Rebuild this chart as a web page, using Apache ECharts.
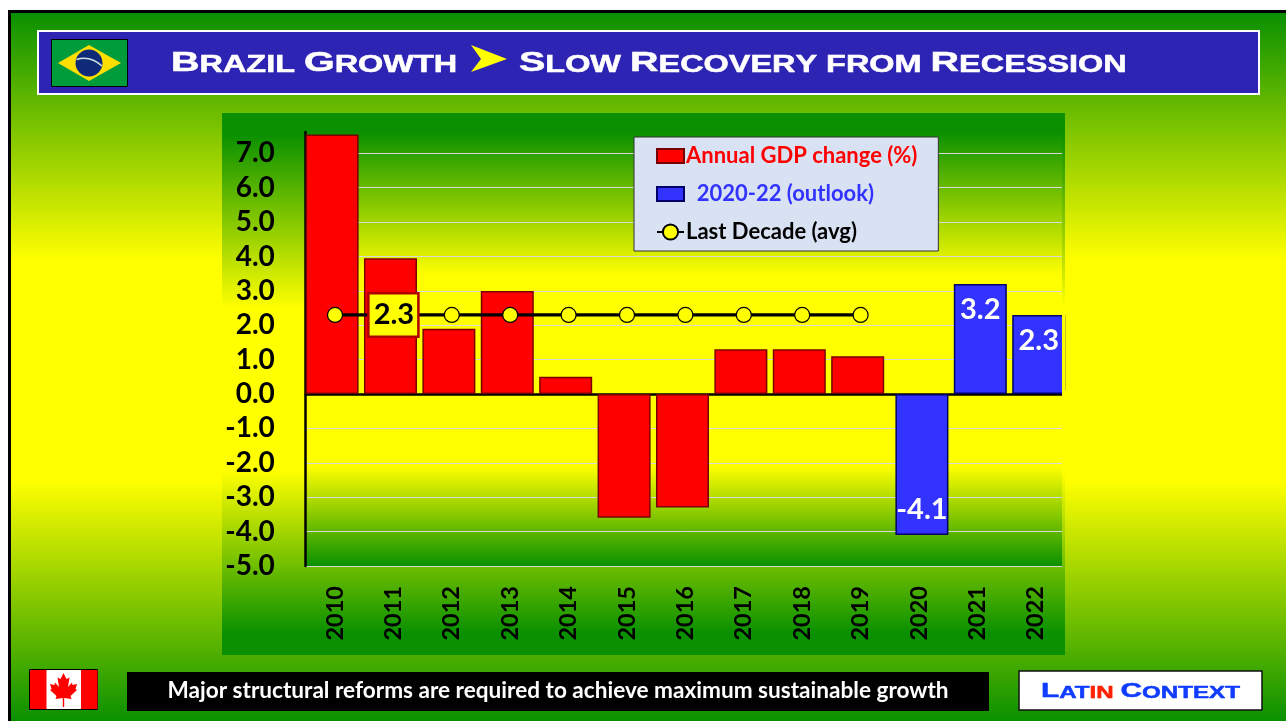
<!DOCTYPE html>
<html>
<head>
<meta charset="utf-8">
<title>Brazil Growth</title>
<script src="https://cdn.jsdelivr.net/npm/echarts@6/dist/echarts.min.js"></script>
<style>
html, body { margin: 0; padding: 0; background: #fff; }
#main { width: 1286px; height: 721px; }
</style>
</head>
<body>
<div id="main"></div>
<script>
var years = ['2010', '2011', '2012', '2013', '2014', '2015', '2016', '2017', '2018', '2019', '2020', '2021', '2022'];
var gdpChange = [7.55, 3.95, 1.9, 3.0, 0.5, -3.6, -3.3, 1.3, 1.3, 1.1, null, null, null];
var outlook = [null, null, null, null, null, null, null, null, null, null, -4.1, 3.2, 2.3];
var decadeAvg = [2.3, 2.3, 2.3, 2.3, 2.3, 2.3, 2.3, 2.3, 2.3, 2.3, null, null, null];
var seriesNames = ['Annual GDP change (%)', '2020-22 (outlook)', 'Last Decade (avg)'];
var titleLeft = 'Brazil Growth';
var titleRight = 'Slow Recovery from Recession';
var footerNote = 'Major structural reforms are required to achieve maximum sustainable growth';

var GREEN = '#0a9000';
var FONT = 'Lato';
var CAPS_FONT = 'Liberation Sans';

function vgrad(y0, y1, stops) {
    return new echarts.graphic.LinearGradient(0, y0, 0, y1, stops, true);
}
var panelGrad = vgrad(113, 655, [
    { offset: 0, color: GREEN }, { offset: 0.04, color: GREEN },
    { offset: 0.36, color: '#ffff00' }, { offset: 0.66, color: '#ffff00' },
    { offset: 0.96, color: GREEN }, { offset: 1, color: GREEN }
]);
var pageGrad = vgrad(13, 721, [
    { offset: 0, color: GREEN }, { offset: 0.35, color: '#ffff00' },
    { offset: 0.66, color: '#ffff00' }, { offset: 1, color: GREEN }
]);

function capsStyle(size, color) {
    return { fontFamily: CAPS_FONT, fontWeight: 'bold', fontSize: size, fill: color, stroke: color, lineWidth: 0.5, verticalAlign: 'bottom' };
}
// small caps look: capitals large, the rest upper-cased in a smaller size
function smallCaps(s) {
    return s.split('').map(function (c) {
        if (c === ' ') return '{b| }';
        if (c === c.toUpperCase()) return '{a|' + c + '}';
        return '{b|' + c.toUpperCase() + '}';
    }).join('');
}
function capsText(str, x, y, sx, big, small, color) {
    return {
        type: 'text', x: x, y: y, scaleX: sx, z: 5,
        style: {
            text: smallCaps(str), verticalAlign: 'middle', align: 'left',
            rich: { a: capsStyle(big, color), b: capsStyle(small, color) }
        }
    };
}
function box(x, y, w, h, fill, stroke, lw, z) {
    return { type: 'rect', z: z === undefined ? -5 : z, shape: { x: x, y: y, width: w, height: h },
        style: { fill: fill, stroke: stroke || null, lineWidth: lw || 0 } };
}
function poly(points, fill, z) {
    return { type: 'polygon', z: z || 5, shape: { points: points }, style: { fill: fill } };
}

var decor = [
    box(9.5, 11.5, 1290, 720, pageGrad, '#000', 3, -9),
    box(222, 113, 843, 542, panelGrad, null, 0, -8),
    // header band
    box(38, 31, 1221, 63, '#2e24b4', '#fff', 2, 1),
    box(51.5, 39.5, 76, 47, '#009b3a', '#000', 1, 2),
    poly([[58, 63], [89, 45], [121, 63], [89, 81]], '#fedf00', 3),
    { type: 'circle', z: 4, shape: { cx: 89, cy: 63, r: 13.5 }, style: { fill: '#0f2a78' } },
    { type: 'bezierCurve', z: 5, shape: { x1: 76.5, y1: 59.5, cpx1: 90, cpy1: 55, x2: 102, y2: 66 },
        style: { stroke: '#cfe3e0', lineWidth: 1.6, fill: null } },
    capsText(titleLeft, 171, 63, 1.41, 28, 23, '#fff'),
    poly([[471, 45], [507, 59], [471, 72], [481, 59]], '#ffff00', 3),
    capsText(titleRight, 519, 63, 1.41, 28, 23, '#fff'),
    // canadian flag
    box(29.5, 669.5, 68, 40, '#fff', '#000', 1, 2),
    box(30, 670, 16.5, 39, '#ff0000', null, 0, 3),
    box(81, 670, 16.5, 39, '#ff0000', null, 0, 3),
    poly([[63.5, 673], [60.5, 679], [57.5, 677.5], [59, 687], [55, 682.5], [54.5, 685], [50, 684], [51.5, 689], [50, 690],
        [56.5, 696], [55.5, 699], [62.8, 698], [62.8, 707], [64.2, 707], [64.2, 698], [71.5, 699], [70.5, 696],
        [77, 690], [75.5, 689], [77, 684], [72.5, 685], [72, 682.5], [68, 687], [69.5, 677.5], [66.5, 679]], '#ff0000', 4),
    // footer
    box(127, 672, 862, 39, '#000', null, 0, 1),
    { type: 'text', z: 5, x: 558, y: 691, style: { text: footerNote, fontFamily: FONT, fontWeight: 'bold', fontSize: 22.6,
        fill: '#fff', align: 'center', verticalAlign: 'middle' } },
    box(1019, 671, 243, 39, '#fff', '#111', 1.5, 1),
    {
        type: 'text', z: 5, x: 1041, y: 691, scaleX: 1.42,
        style: {
            text: '{a|L}{b|AT}{c|IN}{b| }{a|C}{b|ONTEXT}', align: 'left', verticalAlign: 'middle',
            rich: { a: capsStyle(21, '#0f3cff'), b: capsStyle(17, '#0f3cff'), c: capsStyle(17, '#ff2000') }
        }
    },
    // the original picture crops the last bar and the grid lines here
    box(1062, 113, 3, 542, panelGrad, null, 0, 50),
    box(1065, 390, 3, 8, pageGrad, null, 0, 50)
];

var chart = echarts.init(document.getElementById('main'));
var barIcon = 'path://M0 0H27V14H0Z';
var option = {
    animation: false,
    backgroundColor: '#fff',
    graphic: { elements: decor },
    grid: {
        left: 305.8, top: 132, width: 759.2, height: 434,
        show: true, borderWidth: 0,
        backgroundColor: new echarts.graphic.LinearGradient(0, 0, 0, 1, [
            { offset: 0, color: GREEN }, { offset: 0.33, color: '#ffff00' },
            { offset: 0.77, color: '#ffff00' }, { offset: 1, color: GREEN }
        ])
    },
    legend: {
        left: 634, top: 137, orient: 'vertical', itemGap: 12, itemWidth: 27, itemHeight: 19,
        padding: [6, 21, 6, 22],
        backgroundColor: '#d9e2f3', borderColor: '#333', borderWidth: 1,
        data: [
            { name: seriesNames[0], icon: barIcon, textStyle: { color: '#ff0000' } },
            { name: seriesNames[1], icon: barIcon, textStyle: { color: '#3333ff' } },
            { name: seriesNames[2], textStyle: { color: '#000' } }
        ],
        formatter: function (n) { return n === seriesNames[1] ? '  ' + n : n; },
        textStyle: { fontFamily: FONT, fontWeight: 'bold', fontSize: 22, lineHeight: 26, padding: [0, 0, 0, -3] }
    },
    xAxis: [
        {
            type: 'category', data: years, position: 'bottom',
            axisLine: { onZero: false, show: false }, axisTick: { show: false }, splitLine: { show: false },
            axisLabel: { rotate: 90, margin: 20, color: '#000', fontFamily: FONT, fontWeight: 'bold', fontSize: 23.5 }
        },
        {
            type: 'category', data: years, position: 'bottom',
            axisLine: { onZero: true, lineStyle: { color: '#000', width: 2.5 } },
            axisTick: { show: false }, axisLabel: { show: false }, splitLine: { show: false }
        }
    ],
    yAxis: {
        type: 'value', min: -5, max: 7.62, interval: 1, offset: 1,
        axisLine: { show: true, lineStyle: { color: '#000', width: 2.5 } },
        axisTick: { show: false },
        splitLine: { show: true, showMaxLine: false, lineStyle: { color: '#d9d9d9', width: 1 } },
        axisLabel: {
            margin: 30, color: '#000', fontFamily: FONT, fontWeight: 'bold', fontSize: 28, showMaxLabel: false,
            formatter: function (v) { return v.toFixed(1); }
        }
    },
    series: [
        {
            name: seriesNames[0], type: 'bar', barWidth: 53, barGap: '-89%', data: gdpChange,
            itemStyle: { color: '#ff0000', borderColor: '#7a0000', borderWidth: 1.5 }
        },
        {
            name: seriesNames[1], type: 'bar', barWidth: 53,
            data: outlook.map(function (v) {
                if (v !== null && v < 0) return { value: v, label: { position: 'insideBottom' } };
                return v;
            }),
            itemStyle: { color: '#3333ff', borderColor: '#000066', borderWidth: 1.5 },
            label: {
                show: true, color: '#fff', fontFamily: FONT, fontWeight: 'bold', fontSize: 29,
                position: 'insideTop', distance: 11,
                formatter: function (p) { return p.value.toFixed(1); }
            }
        },
        {
            name: seriesNames[2], type: 'line', z: 5, symbol: 'circle', symbolSize: 15,
            data: decadeAvg.map(function (v, i) {
                if (i !== 1) return v;
                return {
                    value: v,
                    label: {
                        show: true, position: 'inside', formatter: '{c}',
                        color: '#000', fontFamily: FONT, fontWeight: 'bold', fontSize: 29,
                        backgroundColor: '#ffff00', borderColor: '#b00000', borderWidth: 2.5,
                        padding: [6, 3, 6, 4]
                    }
                };
            }),
            lineStyle: { color: '#000', width: 3.2 },
            itemStyle: { color: '#ffff00', borderColor: '#000', borderWidth: 1.2 }
        }
    ]
};
chart.setOption(option);
</script>
</body>
</html>
